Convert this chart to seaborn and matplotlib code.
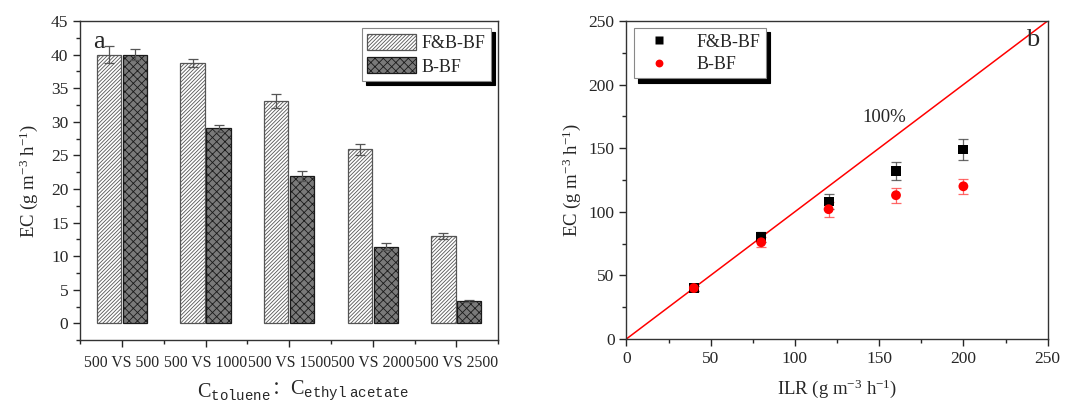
import numpy as np
import pandas as pd
import seaborn as sns
import matplotlib.pyplot as plt
from matplotlib.ticker import MultipleLocator

# ---- data: panel a (bars) ----
ratios = ['500 VS 500', '500 VS 1000', '500 VS 1500', '500 VS 2000', '500 VS 2500']
fb_ec = [40.0, 38.7, 33.1, 25.9, 13.0]
fb_err = [1.2, 0.6, 1.0, 0.8, 0.5]
b_ec = [40.0, 29.0, 21.9, 11.4, 3.3]
b_err = [0.8, 0.5, 0.7, 0.5, 0.15]

# ---- data: panel b (scatter) ----
ilr = [40, 80, 120, 160, 200]
fb_ec_b = [40, 80, 108, 132, 149]
fb_err_b = [2, 4, 6, 7, 8]
b_ec_b = [40, 76, 102, 113, 120]
b_err_b = [2, 4, 6, 6, 6]
line_x = [0, 250]
line_y = [0, 250]

sns.set_style('ticks')
plt.rcParams['font.family'] = ['Liberation Serif', 'Noto Sans CJK SC']
plt.rcParams['mathtext.fontset'] = 'custom'
plt.rcParams['mathtext.rm'] = 'Liberation Serif'
plt.rcParams['mathtext.it'] = 'Liberation Serif:italic'
plt.rcParams['mathtext.tt'] = 'Liberation Mono'
plt.rcParams['hatch.linewidth'] = 0.6
plt.rcParams['axes.linewidth'] = 1.0
plt.rcParams['xtick.direction'] = 'out'
plt.rcParams['ytick.direction'] = 'out'

fig = plt.figure(figsize=(10.69, 4.03), dpi=100)
ax1 = fig.add_axes([0.075, 0.156, 0.391, 0.792])
ax2 = fig.add_axes([0.586, 0.159, 0.394, 0.789])

# ---------------- panel a ----------------
df_a = pd.DataFrame({
    'ratio': ratios * 2,
    'EC': fb_ec + b_ec,
    'err': fb_err + b_err,
    'group': ['F&B-BF'] * 5 + ['B-BF'] * 5,
})
sns.barplot(data=df_a, x='ratio', y='EC', hue='group', ax=ax1,
            palette=['white', '#7a7a7a'], errorbar=None, width=0.62,
            linewidth=0.9, gap=0.06)

hatches = ['/////////', 'xxxx']
edges = ['#555555', '#1a1a1a']
errs = [fb_err, b_err]
for cont, h, ec, e in zip(ax1.containers, hatches, edges, errs):
    xs = []
    ys = []
    for bar in cont:
        bar.set_hatch(h)
        bar.set_edgecolor(ec)
        xs.append(bar.get_x() + bar.get_width() / 2)
        ys.append(bar.get_height())
    ax1.errorbar(xs, ys, yerr=e, fmt='none', ecolor='#555555',
                 elinewidth=0.9, capsize=3.5, capthick=0.9)

ax1.set_xlim(-0.5, 4.5)
ax1.set_ylim(-2.5, 45)
ax1.yaxis.set_major_locator(MultipleLocator(5))
ax1.yaxis.set_minor_locator(MultipleLocator(2.5))
ax1.set_xticks(np.arange(-0.5, 5, 1.0), minor=True)
ax1.tick_params(axis='y', which='major', labelsize=12.5, length=5, width=1)
ax1.tick_params(axis='x', which='major', labelsize=11.3, length=5, width=1, pad=6)
ax1.tick_params(axis='both', which='minor', length=3, width=1)
ax1.set_xlabel('')
ax1.set_ylabel('EC (g m$^{-3}$ h$^{-1}$)', fontsize=13.5, labelpad=8)
ax1.text(0.03, 0.97, 'a', transform=ax1.transAxes, fontsize=19,
         va='top', ha='left')
leg1 = ax1.legend(loc='upper right', fontsize=13, frameon=True, fancybox=False,
                  edgecolor='#888888', borderpad=0.3, handlelength=2.7,
                  handleheight=1.0, handletextpad=0.3, labelspacing=0.3,
                  borderaxespad=0.4,
                  shadow={'ox': 3, 'oy': -3, 'color': 'black', 'alpha': 1})
leg1.get_frame().set_linewidth(0.8)
for handle, h, ec in zip(leg1.legend_handles, hatches, edges):
    handle.set_hatch(h)
    handle.set_edgecolor(ec)
for spine in ax1.spines.values():
    spine.set_visible(True)
    spine.set_color('#333333')

# x label pieces: C_toluene ： C_ethyl acetate
fig.text(271 / 1069, 1 - 391 / 403, r'C$_{\mathtt{toluene}}$', fontsize=14.5,
         ha='right', va='center')
fig.text(281 / 1069, 1 - 389 / 403, '：', fontsize=13,
         ha='center', va='center', family=['Noto Sans CJK SC'])
fig.text(290 / 1069, 1 - 391 / 403, r'C$_{\mathtt{ethyl\ acetate}}$', fontsize=14.5,
         ha='left', va='center')

# ---------------- panel b ----------------
df_b = pd.DataFrame({
    'ILR': ilr * 2,
    'EC': fb_ec_b + b_ec_b,
    'err': fb_err_b + b_err_b,
    'group': ['F&B-BF'] * 5 + ['B-BF'] * 5,
})
sns.lineplot(x=line_x, y=line_y, color='red', linewidth=1.1, ax=ax2, legend=False)
ax2.errorbar(ilr, fb_ec_b, yerr=fb_err_b, fmt='none', ecolor='#444444',
             elinewidth=0.9, capsize=3.5, capthick=0.9, alpha=0.8)
ax2.errorbar(ilr, b_ec_b, yerr=b_err_b, fmt='none', ecolor='#ff4444',
             elinewidth=0.9, capsize=3.5, capthick=0.9, alpha=0.8)
sns.scatterplot(data=df_b, x='ILR', y='EC', hue='group', style='group',
                markers={'F&B-BF': 's', 'B-BF': 'o'},
                palette={'F&B-BF': 'black', 'B-BF': 'red'},
                s=50, edgecolor='none', ax=ax2, zorder=3)

ax2.set_xlim(0, 250)
ax2.set_ylim(0, 250)
ax2.xaxis.set_major_locator(MultipleLocator(50))
ax2.xaxis.set_minor_locator(MultipleLocator(25))
ax2.yaxis.set_major_locator(MultipleLocator(50))
ax2.yaxis.set_minor_locator(MultipleLocator(25))
ax2.tick_params(axis='both', which='major', labelsize=12.5, length=5, width=1)
ax2.tick_params(axis='both', which='minor', length=3, width=1)
ax2.set_xlabel('ILR (g m$^{-3}$ h$^{-1}$)', fontsize=13.5, labelpad=8)
ax2.set_ylabel('EC (g m$^{-3}$ h$^{-1}$)', fontsize=13.5, labelpad=4)
ax2.text(140, 174, '100%', fontsize=13.5, ha='left', va='center')
ax2.text(241, 235, 'b', fontsize=19, ha='center', va='center')
leg2 = ax2.legend(loc='upper left', fontsize=13, frameon=True, fancybox=False,
                  edgecolor='#888888', borderpad=0.3, handlelength=2.2,
                  handletextpad=1.0, labelspacing=0.3, borderaxespad=0.4,
                  markerscale=0.8,
                  shadow={'ox': 3, 'oy': -3, 'color': 'black', 'alpha': 1})
leg2.get_frame().set_linewidth(0.8)
for spine in ax2.spines.values():
    spine.set_visible(True)
    spine.set_color('#333333')

fig.savefig('out.png', dpi=100)
